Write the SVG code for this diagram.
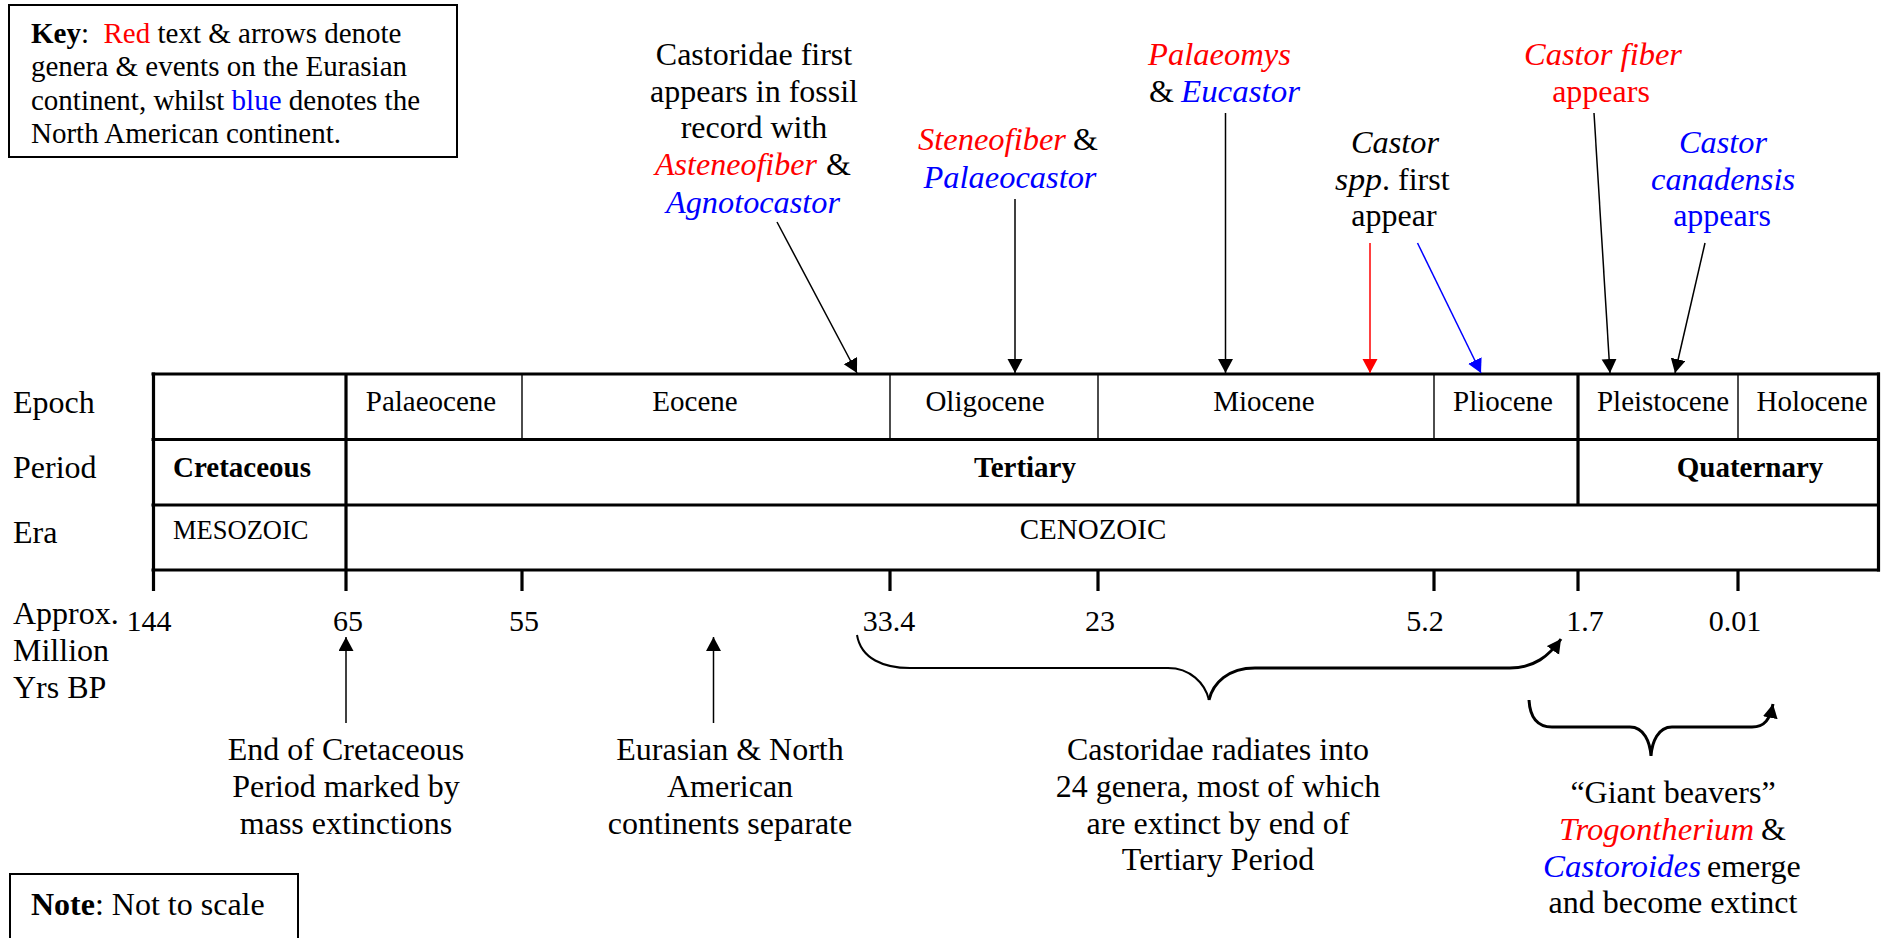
<svg xmlns="http://www.w3.org/2000/svg" width="1881" height="938" viewBox="0 0 1881 938">
<defs>
<style>
text{font-family:"Liberation Serif","Times New Roman",serif;fill:#000}
.tb{font-size:29px}
.an{font-size:32px}
.num{font-size:30px}
.key{font-size:29px}
.r{fill:#ff0000}
.b{fill:#0000ff}
.i{font-style:italic}
.bd{font-weight:bold}
.thick{stroke:#000;stroke-width:3.2;fill:none}
.thin{stroke:#000;stroke-width:1.4;fill:none}
.box{stroke:#000;stroke-width:2;fill:#fff}
.con{stroke:#000;stroke-width:1.5;fill:none}
.conr{stroke:#ff0000;stroke-width:1.5;fill:none}
.conb{stroke:#0000ff;stroke-width:1.5;fill:none}
.brace{stroke:#000;stroke-width:2;fill:none}
.braceb{stroke:#000;stroke-width:3;fill:none}
</style>
<marker id="ah" markerUnits="userSpaceOnUse" markerWidth="16" markerHeight="16" refX="14" refY="7.5" orient="auto"><path d="M0,0 L14,7.5 L0,15 z" fill="#000"/></marker>
<marker id="ahr" markerUnits="userSpaceOnUse" markerWidth="16" markerHeight="16" refX="14" refY="7.5" orient="auto"><path d="M0,0 L14,7.5 L0,15 z" fill="#ff0000"/></marker>
<marker id="ahb" markerUnits="userSpaceOnUse" markerWidth="16" markerHeight="16" refX="14" refY="7.5" orient="auto"><path d="M0,0 L14,7.5 L0,15 z" fill="#0000ff"/></marker>
</defs>
<rect width="1881" height="938" fill="#fff"/>

<g id="key">
<rect class="box" x="9" y="5" width="448" height="152"/>
<text class="key" x="31" y="43" xml:space="preserve"><tspan class="bd">Key</tspan>:  <tspan class="r">Red</tspan> text &amp; arrows denote</text>
<text class="key" x="31" y="76">genera &amp; events on the Eurasian</text>
<text class="key" x="31" y="110">continent, whilst <tspan class="b">blue</tspan> denotes the</text>
<text class="key" x="31" y="143">North American continent.</text>
</g>

<g id="note">
<rect class="box" x="10" y="874" width="288" height="80"/>
<text class="an" x="31" y="915"><tspan class="bd">Note</tspan>: Not to scale</text>
</g>

<g id="row-labels">
<text class="an" x="13" y="413">Epoch</text>
<text class="an" x="13" y="478">Period</text>
<text class="an" x="13" y="543">Era</text>
<text class="an" x="13" y="624">Approx.</text>
<text class="an" x="13" y="661">Million</text>
<text class="an" x="13" y="698">Yrs BP</text>
</g>

<g id="timeline-table">
<g id="grid">
<line class="thick" x1="151.5" y1="374" x2="1880" y2="374"/>
<line class="thick" x1="151.5" y1="439.5" x2="1880" y2="439.5"/>
<line class="thick" x1="151.5" y1="505" x2="1880" y2="505"/>
<line class="thick" x1="151.5" y1="570" x2="1880" y2="570"/>
<line class="thick" x1="153.5" y1="372.5" x2="153.5" y2="591"/>
<line class="thick" x1="1878.5" y1="372.5" x2="1878.5" y2="571.5"/>
<line class="thick" x1="346" y1="374" x2="346" y2="591"/>
<line class="thick" x1="1578" y1="374" x2="1578" y2="505"/>
<line class="thin" x1="522" y1="374" x2="522" y2="439.5"/>
<line class="thin" x1="890" y1="374" x2="890" y2="439.5"/>
<line class="thin" x1="1098" y1="374" x2="1098" y2="439.5"/>
<line class="thin" x1="1434" y1="374" x2="1434" y2="439.5"/>
<line class="thin" x1="1738" y1="374" x2="1738" y2="439.5"/>
<line class="thick" x1="522" y1="570" x2="522" y2="591"/>
<line class="thick" x1="890" y1="570" x2="890" y2="591"/>
<line class="thick" x1="1098" y1="570" x2="1098" y2="591"/>
<line class="thick" x1="1434" y1="570" x2="1434" y2="591"/>
<line class="thick" x1="1578" y1="570" x2="1578" y2="591"/>
<line class="thick" x1="1738" y1="570" x2="1738" y2="591"/>
</g>
<g id="epochs" text-anchor="middle">
<text class="tb" x="431" y="411">Palaeocene</text>
<text class="tb" x="695" y="411">Eocene</text>
<text class="tb" x="985" y="411">Oligocene</text>
<text class="tb" x="1264" y="411">Miocene</text>
<text class="tb" x="1503" y="411">Pliocene</text>
<text class="tb" x="1663" y="411">Pleistocene</text>
<text class="tb" x="1812" y="411">Holocene</text>
</g>
<g id="periods">
<text class="tb bd" x="173" y="477">Cretaceous</text>
<text class="tb bd" x="1025" y="477" text-anchor="middle">Tertiary</text>
<text class="tb bd" x="1750" y="477" text-anchor="middle">Quaternary</text>
</g>
<g id="eras">
<text class="tb" x="173" y="539" style="font-size:26.5px">MESOZOIC</text>
<text class="tb" x="1093" y="539" text-anchor="middle">CENOZOIC</text>
</g>
<g id="dates" text-anchor="middle">
<text class="num" x="149" y="631">144</text>
<text class="num" x="348" y="631">65</text>
<text class="num" x="524" y="631">55</text>
<text class="num" x="889" y="631">33.4</text>
<text class="num" x="1100" y="631">23</text>
<text class="num" x="1425" y="631">5.2</text>
<text class="num" x="1585" y="631">1.7</text>
<text class="num" x="1735" y="631">0.01</text>
</g>
</g>

<g id="ann-castoridae-first">
<text class="an" x="754" y="65" text-anchor="middle">Castoridae first</text>
<text class="an" x="754" y="102" text-anchor="middle">appears in fossil</text>
<text class="an" x="754" y="138" text-anchor="middle">record with</text>
<text class="an r i" x="655" y="175" textLength="162" lengthAdjust="spacingAndGlyphs">Asteneofiber</text>
<text class="an" x="826" y="175">&amp;</text>
<text class="an b i" x="753" y="213" text-anchor="middle" textLength="174" lengthAdjust="spacingAndGlyphs">Agnotocastor</text>
</g>

<g id="ann-steneofiber">
<text class="an r i" x="918" y="150" textLength="148" lengthAdjust="spacingAndGlyphs">Steneofiber</text>
<text class="an" x="1073" y="150">&amp;</text>
<text class="an b i" x="1010" y="188" text-anchor="middle" textLength="173" lengthAdjust="spacingAndGlyphs">Palaeocastor</text>
</g>

<g id="ann-palaeomys">
<text class="an r i" x="1148" y="65" textLength="143" lengthAdjust="spacingAndGlyphs">Palaeomys</text>
<text class="an" x="1149" y="102">&amp;</text>
<text class="an b i" x="1181" y="102" textLength="119" lengthAdjust="spacingAndGlyphs">Eucastor</text>
</g>

<g id="ann-castor-spp">
<text class="an i" x="1395" y="153" text-anchor="middle" textLength="88" lengthAdjust="spacingAndGlyphs">Castor</text>
<text class="an i" x="1335" y="190" textLength="47" lengthAdjust="spacingAndGlyphs">spp</text>
<text class="an" x="1382" y="190">. first</text>
<text class="an" x="1394" y="226" text-anchor="middle">appear</text>
</g>

<g id="ann-castor-fiber">
<text class="an r i" x="1603" y="65" text-anchor="middle" textLength="158" lengthAdjust="spacingAndGlyphs">Castor fiber</text>
<text class="an r" x="1601" y="102" text-anchor="middle">appears</text>
</g>

<g id="ann-castor-canadensis">
<text class="an b i" x="1723" y="153" text-anchor="middle" textLength="88" lengthAdjust="spacingAndGlyphs">Castor</text>
<text class="an b i" x="1723" y="190" text-anchor="middle" textLength="144" lengthAdjust="spacingAndGlyphs">canadensis</text>
<text class="an b" x="1722" y="226" text-anchor="middle">appears</text>
</g>

<g id="ann-end-cretaceous" text-anchor="middle">
<text class="an" x="346" y="760">End of Cretaceous</text>
<text class="an" x="346" y="797">Period marked by</text>
<text class="an" x="346" y="834">mass extinctions</text>
</g>

<g id="ann-continents" text-anchor="middle">
<text class="an" x="730" y="760">Eurasian &amp; North</text>
<text class="an" x="730" y="797">American</text>
<text class="an" x="730" y="834">continents separate</text>
</g>

<g id="ann-radiation" text-anchor="middle">
<text class="an" x="1218" y="760">Castoridae radiates into</text>
<text class="an" x="1218" y="797">24 genera, most of which</text>
<text class="an" x="1218" y="834">are extinct by end of</text>
<text class="an" x="1218" y="870">Tertiary Period</text>
</g>

<g id="ann-giant-beavers">
<text class="an" x="1673" y="803" text-anchor="middle">“Giant beavers”</text>
<text class="an r i" x="1559" y="840" textLength="195" lengthAdjust="spacingAndGlyphs">Trogontherium</text>
<text class="an" x="1761" y="840">&amp;</text>
<text class="an b i" x="1543" y="877" textLength="158" lengthAdjust="spacingAndGlyphs">Castoroides</text>
<text class="an" x="1707" y="877">emerge</text>
<text class="an" x="1673" y="913" text-anchor="middle">and become extinct</text>
</g>

<g id="connectors">
<line class="con" x1="777" y1="222" x2="857" y2="373" marker-end="url(#ah)"/>
<line class="con" x1="1015" y1="199" x2="1015" y2="373" marker-end="url(#ah)"/>
<line class="con" x1="1225.5" y1="113" x2="1225.5" y2="373" marker-end="url(#ah)"/>
<line class="conr" x1="1370" y1="243" x2="1370" y2="373" marker-end="url(#ahr)"/>
<line class="conb" x1="1417.5" y1="243" x2="1481" y2="373" marker-end="url(#ahb)"/>
<line class="con" x1="1594" y1="113" x2="1610" y2="373" marker-end="url(#ah)"/>
<line class="con" x1="1705" y1="243" x2="1675" y2="373" marker-end="url(#ah)"/>
<line class="con" x1="346" y1="723" x2="346" y2="637" marker-end="url(#ah)"/>
<line class="con" x1="713.5" y1="723" x2="713.5" y2="637" marker-end="url(#ah)"/>
<path class="brace" d="M857,635 C861,659 884,668 910,668 L1168,668 C1190,668 1205,683 1209,700"/>
<path class="braceb" d="M1209,700 C1213,683 1228,668 1255,668 L1510,668 C1534,668 1549,656 1561,639" marker-end="url(#ah)"/>
<path class="braceb" d="M1529,700 C1530,718 1538,727 1552,727 L1630,727 C1644,727 1650,742 1651,756 C1652,742 1658,727 1672,727 L1752,727 C1765,727 1770,719 1773,704" marker-end="url(#ah)"/>
</g>
</svg>
